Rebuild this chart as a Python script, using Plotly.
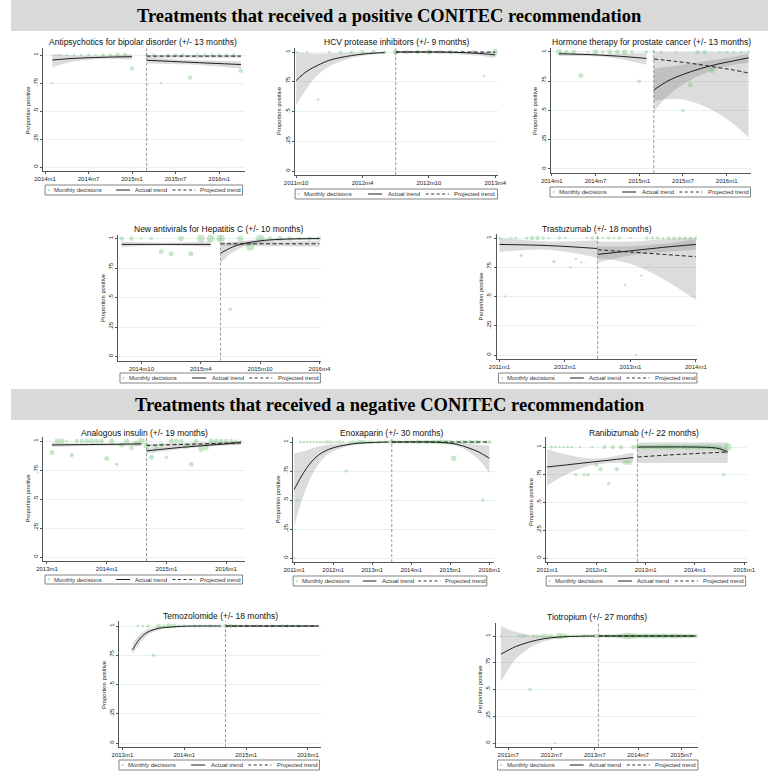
import math
import plotly.graph_objects as go

FIG_W, FIG_H = 778, 780

# ------------------------------------------------------------------ texts
HEADER_POS = "Treatments that received a positive CONITEC recommendation"
HEADER_NEG = "Treatments that received a negative CONITEC recommendation"
LEGEND_LABELS = ["Monthly decisions", "Actual trend", "Projected trend"]
Y_TITLE = "Proportion positive"
Y_TICKS = [0, 0.25, 0.5, 0.75, 1]
Y_TICK_TEXT = ["0", ".25", ".5", ".75", "1"]

# ------------------------------------------------------------------ 1 Antipsychotics
AP_TITLE = "Antipsychotics for bipolar disorder (+/- 13 months)"
AP_BASE = "2014m1"
AP_TICKS = ["2014m1", "2014m7", "2015m1", "2015m7", "2016m1"]
AP_CUT = 14
AP_MONTHS = [1, 2, 3, 4, 5, 6, 7, 8, 9, 10, 11, 12, 14, 15, 16, 17, 18, 19, 20, 21, 22, 23, 24, 25, 26, 27]
AP_PROP = [0.75, 1, 1, 1, 1, 1, 1, 1, 1, 1, 1, 0.88, 1, 1, 0.75, 1, 1, 1, 0.80, 1, 1, 1, 1, 1, 1, 0.86]
AP_N = [1, 1, 1, 1, 1, 2, 1, 2, 2, 3, 3, 3, 2, 2, 1, 2, 2, 2, 3, 2, 2, 2, 2, 2, 2, 3]
AP_PRE_T = [1, 4, 8, 12]
AP_PRE_FIT = [0.955, 0.97, 0.98, 0.985]
AP_PRE_LO = [0.89, 0.945, 0.965, 0.96]
AP_PRE_HI = [1.01, 0.995, 0.995, 1.01]
AP_POST_T = [14, 20, 27]
AP_POST_FIT = [0.953, 0.935, 0.915]
AP_POST_LO = [0.925, 0.915, 0.88]
AP_POST_HI = [0.98, 0.955, 0.945]
AP_PROJ_T = [14, 27]
AP_PROJ_FIT = [0.99, 0.99]
AP_PROJ_LO = [0.975, 0.975]
AP_PROJ_HI = [1.0, 1.0]

# ------------------------------------------------------------------ 2 HCV protease inhibitors
HC_TITLE = "HCV protease inhibitors (+/- 9 months)"
HC_BASE = "2011m10"
HC_TICKS = ["2011m10", "2012m4", "2012m10", "2013m4"]
HC_CUT = 9
HC_MONTHS = [0, 1, 2, 3, 4, 5, 6, 7, 8, 9, 10, 11, 12, 13, 14, 15, 16, 17, 18]
HC_PROP = [1, 1, 0.6, 1, 1, 1, 1, 1, 1, 1, 1, 1, 1, 1, 1, 1, 1, 0.8, 1]
HC_N = [1, 1, 1, 1, 2, 2, 3, 3, 2, 5, 3, 3, 5, 3, 3, 2, 3, 1, 6]
HC_PRE_T = [0, 1, 2, 3, 5, 7, 8]
HC_PRE_FIT = [0.76, 0.84, 0.89, 0.93, 0.97, 0.99, 0.995]
HC_PRE_LO = [0.55, 0.70, 0.81, 0.88, 0.95, 0.98, 0.985]
HC_PRE_HI = [1.0, 0.99, 0.985, 0.99, 0.995, 1.0, 1.0]
HC_POST_T = [9, 13, 15, 17, 18]
HC_POST_FIT = [1.0, 1.0, 0.995, 0.985, 0.975]
HC_POST_LO = [0.99, 0.99, 0.98, 0.965, 0.95]
HC_POST_HI = [1.0, 1.0, 1.0, 1.0, 1.0]
HC_PROJ_T = [9, 18]
HC_PROJ_FIT = [1.0, 1.0]
HC_PROJ_LO = [0.995, 0.995]
HC_PROJ_HI = [1.0, 1.0]

# ------------------------------------------------------------------ 3 Hormone therapy
HO_TITLE = "Hormone therapy for prostate cancer (+/- 13 months)"
HO_BASE = "2014m1"
HO_TICKS = ["2014m1", "2014m7", "2015m1", "2015m7", "2016m1"]
HO_CUT = 14
HO_MONTHS = [1, 2, 3, 4, 5, 6, 7, 8, 9, 10, 11, 12, 13, 14, 15, 16, 17, 18, 19, 20, 21, 22, 23, 24, 25, 26, 27]
HO_PROP = [1, 1, 1, 0.8, 1, 1, 1, 1, 1, 1, 1, 0.75, 1, 1, 1, 0.75, 1, 0.5, 0.72, 1, 1, 0.84, 1, 1, 1, 1, 1]
HO_N = [6, 3, 3, 4, 1, 5, 2, 4, 4, 5, 2, 2, 2, 1, 1, 2, 1, 2, 4, 3, 3, 4, 1, 1, 1, 1, 1]
HO_PRE_T = [1, 5, 9, 13]
HO_PRE_FIT = [0.985, 0.978, 0.965, 0.945]
HO_PRE_LO = [0.965, 0.965, 0.945, 0.89]
HO_PRE_HI = [1.0, 0.99, 0.985, 0.995]
HO_POST_T = [14, 16, 19, 22, 25, 27]
HO_POST_FIT = [0.675, 0.755, 0.83, 0.885, 0.925, 0.95]
HO_POST_LO = [0.49, 0.63, 0.76, 0.84, 0.89, 0.905]
HO_POST_HI = [0.86, 0.875, 0.90, 0.93, 0.96, 0.99]
HO_PROJ_T = [14, 17, 20, 23, 25, 27]
HO_PROJ_FIT = [0.94, 0.92, 0.895, 0.865, 0.845, 0.82]
HO_PROJ_LO = [0.58, 0.60, 0.56, 0.47, 0.38, 0.27]
HO_PROJ_HI = [1.0, 1.0, 1.0, 1.0, 1.0, 1.0]

# ------------------------------------------------------------------ 4 New antivirals for Hepatitis C
NA_TITLE = "New antivirals for Hepatitis C (+/- 10 months)"
NA_BASE = "2014m10"
NA_TICKS = ["2014m10", "2015m4", "2015m10", "2016m4"]
NA_CUT = 8
NA_MONTHS = [-2, -1, 0, 1, 2, 3, 4, 5, 6, 7, 8, 9, 10, 11, 12, 13, 14, 15, 16, 17, 18]
NA_PROP = [1, 1, 1, 1, 0.89, 0.87, 1, 0.87, 1, 1, 1, 0.4, 1, 0.93, 1, 1, 1, 1, 1, 1, 1]
NA_N = [3, 3, 1, 2, 4, 4, 5, 4, 9, 9, 12, 2, 6, 10, 10, 3, 4, 3, 2, 3, 3]
NA_PRE_T = [-2, 2, 7]
NA_PRE_FIT = [0.95, 0.95, 0.95]
NA_PRE_LO = [0.925, 0.94, 0.93]
NA_PRE_HI = [0.975, 0.965, 0.975]
NA_POST_T = [8, 9, 10, 12, 14, 18]
NA_POST_FIT = [0.875, 0.92, 0.95, 0.98, 0.993, 1.0]
NA_POST_LO = [0.79, 0.87, 0.92, 0.96, 0.98, 0.99]
NA_POST_HI = [0.94, 0.96, 0.975, 0.995, 1.0, 1.01]
NA_PROJ_T = [8, 18]
NA_PROJ_FIT = [0.955, 0.955]
NA_PROJ_LO = [0.94, 0.93]
NA_PROJ_HI = [0.97, 0.98]

# ------------------------------------------------------------------ 5 Trastuzumab
TR_TITLE = "Trastuzumab (+/- 18 months)"
TR_BASE = "2011m1"
TR_TICKS = ["2011m1", "2012m1", "2013m1", "2014m1"]
TR_CUT = 18
TR_MONTHS = [0, 1, 2, 3, 4, 5, 6, 7, 8, 9, 10, 11, 12, 13, 14, 15, 16, 17, 18, 19, 20, 21, 22, 23, 24, 25, 26, 27, 28, 29, 30, 31, 32, 33, 34, 35, 36]
TR_PROP = [1, 0.5, 1, 1, 0.85, 1, 1, 1, 1, 1, 0.8, 1, 1, 0.75, 0.82, 0.79, 1, 1, 1, 1, 1, 1, 1, 0.6, 1, 0, 0.68, 1, 1, 1, 1, 1, 1, 1, 1, 1, 1]
TR_N = [1, 1, 1, 1, 2, 2, 3, 3, 2, 1, 2, 2, 1, 1, 1, 1, 1, 2, 2, 1, 2, 1, 2, 1, 1, 1, 1, 2, 2, 2, 1, 2, 2, 2, 2, 2, 2]
TR_PRE_T = [0, 9, 18]
TR_PRE_FIT = [0.945, 0.935, 0.91]
TR_PRE_LO = [0.88, 0.90, 0.83]
TR_PRE_HI = [1.0, 0.97, 0.98]
TR_POST_T = [18, 24, 30, 36]
TR_POST_FIT = [0.86, 0.89, 0.92, 0.945]
TR_POST_LO = [0.79, 0.85, 0.88, 0.90]
TR_POST_HI = [0.93, 0.93, 0.95, 0.99]
TR_PROJ_T = [18, 24, 30, 36]
TR_PROJ_FIT = [0.90, 0.88, 0.86, 0.84]
TR_PROJ_LO = [0.83, 0.78, 0.65, 0.47]
TR_PROJ_HI = [0.97, 0.97, 0.99, 1.0]

# ------------------------------------------------------------------ 6 Analogous insulin
IN_TITLE = "Analogous insulin (+/- 19 months)"
IN_BASE = "2013m1"
IN_TICKS = ["2013m1", "2014m1", "2015m1", "2016m1"]
IN_CUT = 20
IN_MONTHS = [1, 2, 3, 4, 5, 6, 7, 8, 9, 10, 11, 12, 13, 14, 15, 16, 17, 18, 19, 20, 21, 22, 23, 24, 25, 26, 27, 28, 29, 30, 31, 32, 33, 34, 35, 36, 37, 38, 39]
IN_PROP = [0.9, 1, 1, 1, 0.88, 1, 1, 1, 1, 1, 1, 0.85, 1, 0.8, 0.965, 1, 0.94, 0.98, 1, 0.96, 0.86, 0.94, 0.97, 0.86, 1, 1, 1, 0.957, 0.8, 1, 0.93, 0.94, 1, 1, 1, 1, 1, 1, 1]
IN_N = [4, 4, 5, 1, 3, 3, 3, 4, 4, 4, 3, 4, 4, 2, 4, 4, 3, 5, 7, 6, 4, 4, 3, 2, 4, 4, 3, 4, 4, 3, 5, 4, 4, 4, 3, 3, 3, 2, 1]
IN_PRE_T = [1, 10, 19]
IN_PRE_FIT = [0.966, 0.97, 0.975]
IN_PRE_LO = [0.95, 0.96, 0.955]
IN_PRE_HI = [0.985, 0.98, 0.99]
IN_POST_T = [20, 27, 33, 39]
IN_POST_FIT = [0.915, 0.945, 0.965, 0.987]
IN_POST_LO = [0.89, 0.93, 0.955, 0.97]
IN_POST_HI = [0.945, 0.96, 0.978, 1.0]
IN_PROJ_T = [20, 39]
IN_PROJ_FIT = [0.962, 0.985]
IN_PROJ_LO = [0.95, 0.965]
IN_PROJ_HI = [0.975, 1.0]

# ------------------------------------------------------------------ 7 Enoxaparin
EN_TITLE = "Enoxaparin (+/- 30 months)"
EN_BASE = "2011m1"
EN_TICKS = ["2011m1", "2012m1", "2013m1", "2014m1", "2015m1", "2016m1"]
EN_CUT = 30
EN_MONTHS = [0, 1, 2, 3, 4, 5, 6, 7, 8, 9, 10, 11, 12, 13, 14, 15, 16, 17, 18, 19, 20, 21, 22, 23, 24, 25, 26, 27, 28, 29,
             30, 31, 32, 33, 34, 35, 36, 37, 38, 39, 40, 41, 42, 43, 44, 45, 46, 47, 48, 49, 50, 51, 52, 53, 54, 55, 56, 57, 58, 59, 60]
EN_PROP = [0, 0.5, 1, 1, 1, 1, 1, 1, 1, 1, 1, 1, 1, 1, 1, 1, 0.75, 1, 1, 1, 1, 1, 1, 1, 1, 1, 1, 1, 1, 1,
           1, 1, 1, 1, 1, 1, 1, 1, 1, 1, 1, 1, 1, 1, 1, 1, 1, 1, 1, 0.86, 1, 1, 1, 1, 1, 1, 1, 1, 0.5, 1, 1]
EN_N = [1, 1, 1, 1, 1, 1, 1, 1, 1, 1, 2, 2, 1, 1, 2, 1, 2, 1, 2, 1, 3, 3, 2, 2, 2, 1, 2, 1, 2, 2,
        3, 2, 2, 1, 2, 2, 2, 2, 3, 2, 2, 3, 2, 3, 3, 4, 4, 3, 3, 5, 2, 2, 3, 2, 3, 2, 3, 2, 2, 2, 2]
EN_PRE_T = [0, 3, 6, 9, 12, 16, 20, 25, 29]
EN_PRE_FIT = [0.59, 0.74, 0.85, 0.915, 0.95, 0.975, 0.99, 0.997, 1.0]
EN_PRE_LO = [0.27, 0.55, 0.74, 0.86, 0.92, 0.96, 0.98, 0.99, 0.995]
EN_PRE_HI = [0.90, 0.92, 0.95, 0.97, 0.98, 0.99, 1.0, 1.0, 1.0]
EN_POST_T = [30, 42, 46, 50, 54, 57, 60]
EN_POST_FIT = [1.0, 1.0, 0.995, 0.98, 0.945, 0.91, 0.86]
EN_POST_LO = [0.995, 0.995, 0.985, 0.965, 0.91, 0.84, 0.73]
EN_POST_HI = [1.0, 1.0, 1.0, 0.995, 0.98, 0.975, 0.97]
EN_PROJ_T = [30, 60]
EN_PROJ_FIT = [1.0, 1.0]
EN_PROJ_LO = [0.997, 0.997]
EN_PROJ_HI = [1.0, 1.0]

# ------------------------------------------------------------------ 8 Ranibizumab
RA_TITLE = "Ranibizumab (+/- 22 months)"
RA_BASE = "2011m1"
RA_TICKS = ["2011m1", "2012m1", "2013m1", "2014m1", "2015m1"]
RA_CUT = 22
RA_MONTHS = [0, 1, 2, 3, 4, 5, 6, 7, 8, 9, 10, 11, 12, 13, 14, 15, 16, 17, 18, 19, 20, 21,
             22, 23, 24, 25, 26, 27, 28, 29, 30, 31, 32, 33, 34, 35, 36, 37, 38, 39, 40, 41, 42, 43, 44]
RA_PROP = [0, 1, 1, 1, 1, 1, 1, 0.75, 1, 0.75, 0.75, 1, 0.84, 0.8, 1, 0.67, 1, 0.8, 1, 0.86, 0.86, 1,
           1, 1, 1, 1, 1, 1, 1, 1, 1, 1, 1, 1, 1, 1, 1, 1, 1, 1, 1, 1, 1, 0.75, 1]
RA_N = [1, 2, 1, 1, 1, 1, 1, 2, 1, 2, 2, 1, 3, 3, 3, 2, 3, 3, 3, 4, 4, 3,
        3, 4, 4, 3, 4, 5, 5, 5, 6, 4, 3, 4, 6, 4, 4, 5, 4, 5, 5, 4, 4, 2, 9]
RA_PRE_T = [0, 5, 11, 16, 21]
RA_PRE_FIT = [0.82, 0.84, 0.865, 0.885, 0.905]
RA_PRE_LO = [0.65, 0.76, 0.835, 0.855, 0.86]
RA_PRE_HI = [0.98, 0.93, 0.895, 0.915, 0.95]
RA_POST_T = [22, 36, 40, 42, 44]
RA_POST_FIT = [1.0, 1.0, 0.995, 0.985, 0.955]
RA_POST_LO = [0.99, 0.99, 0.98, 0.965, 0.93]
RA_POST_HI = [1.0, 1.0, 1.0, 1.0, 0.98]
RA_PROJ_T = [22, 33, 44]
RA_PROJ_FIT = [0.91, 0.935, 0.955]
RA_PROJ_LO = [0.855, 0.855, 0.855]
RA_PROJ_HI = [1.04, 1.04, 1.04]

# ------------------------------------------------------------------ 9 Temozolomide
TE_TITLE = "Temozolomide (+/- 18 months)"
TE_BASE = "2013m1"
TE_TICKS = ["2013m1", "2014m1", "2015m1", "2016m1"]
TE_CUT = 20
TE_MONTHS = [2, 3, 4, 5, 6, 7, 8, 9, 10, 11, 12, 13, 14, 15, 16, 17, 18, 19, 20, 21, 22, 23, 24, 25, 26, 27, 28, 29, 30,
             31, 32, 33, 34, 35, 36, 37, 38]
TE_PROP = [0.8, 1, 1, 1, 0.75, 1, 1, 1, 1, 1, 1, 1, 1, 1, 1, 1, 1, 1, 1, 1, 1, 1, 1, 1, 1, 1, 1, 1, 1,
           1, 1, 1, 1, 1, 1, 1, 1]
TE_N = [2, 1, 1, 2, 2, 4, 2, 5, 4, 2, 2, 1, 2, 2, 1, 2, 1, 2, 3, 3, 2, 1, 2, 1, 2, 1, 1, 2, 1,
        2, 2, 1, 2, 1, 1, 1, 1]
TE_PRE_T = [2, 3, 4, 5, 7, 9, 12, 19]
TE_PRE_FIT = [0.80, 0.87, 0.92, 0.95, 0.98, 0.99, 0.998, 1.0]
TE_PRE_LO = [0.76, 0.83, 0.885, 0.925, 0.965, 0.982, 0.995, 0.998]
TE_PRE_HI = [0.85, 0.91, 0.95, 0.975, 0.992, 1.0, 1.0, 1.0]
TE_POST_T = [20, 38]
TE_POST_FIT = [1.0, 1.0]
TE_POST_LO = [0.998, 0.998]
TE_POST_HI = [1.0, 1.0]
TE_PROJ_T = [20, 38]
TE_PROJ_FIT = [1.0, 1.0]
TE_PROJ_LO = [0.998, 0.998]
TE_PROJ_HI = [1.0, 1.0]

# ------------------------------------------------------------------ 10 Tiotropium
TI_TITLE = "Tiotropium (+/- 27 months)"
TI_BASE = "2011m7"
TI_TICKS = ["2011m7", "2012m7", "2013m7", "2014m7", "2015m7"]
TI_CUT = 25
TI_MONTHS = [-2, 3, 4, 5, 6, 7, 8, 9, 10, 11, 12, 13, 14, 15, 16, 17, 18, 19, 20, 21, 22, 23, 24, 25, 26, 27,
             28, 29, 30, 31, 32, 33, 34, 35, 36, 37, 38, 39, 40, 41, 42, 43, 44, 45, 46, 47, 48, 49, 50, 51, 52]
TI_PROP = [1, 1, 1, 1, 0.5, 1, 1, 1, 1, 1, 1, 0, 1, 1, 1, 1, 1, 1, 1, 1, 1, 1, 1, 1, 1, 1,
           1, 1, 1, 1, 1, 1, 1, 1, 1, 1, 1, 1, 1, 1, 1, 1, 1, 1, 1, 1, 1, 1, 1, 1, 1]
TI_N = [1, 1, 2, 1, 2, 2, 2, 2, 3, 2, 3, 1, 6, 5, 3, 2, 2, 2, 2, 3, 2, 2, 3, 3, 2, 2,
        3, 2, 3, 4, 5, 7, 6, 5, 4, 4, 5, 4, 4, 5, 4, 5, 4, 4, 5, 4, 4, 3, 4, 3, 3]
TI_PRE_T = [-2, 2, 6, 10, 14, 20, 24]
TI_PRE_FIT = [0.83, 0.90, 0.945, 0.975, 0.99, 0.998, 1.0]
TI_PRE_LO = [0.57, 0.78, 0.89, 0.95, 0.98, 0.995, 0.997]
TI_PRE_HI = [1.09, 1.04, 1.01, 1.0, 1.0, 1.0, 1.0]
TI_POST_T = [25, 52]
TI_POST_FIT = [1.0, 1.0]
TI_POST_LO = [0.998, 0.998]
TI_POST_HI = [1.0, 1.0]
TI_PROJ_T = [25, 52]
TI_PROJ_FIT = [1.0, 1.0]
TI_PROJ_LO = [0.998, 0.998]
TI_PROJ_HI = [1.0, 1.0]

# ------------------------------------------------------------------ panel assembly
def pack(title, base, ticks, cut, months, prop, n, pre, post, proj):
    return dict(title=title, base=base, ticks=ticks, cut=cut, months=months, prop=prop, n=n,
                pre=pre, post=post, proj=proj)

PANELS = [
    pack(AP_TITLE, AP_BASE, AP_TICKS, AP_CUT, AP_MONTHS, AP_PROP, AP_N,
         (AP_PRE_T, AP_PRE_FIT, AP_PRE_LO, AP_PRE_HI), (AP_POST_T, AP_POST_FIT, AP_POST_LO, AP_POST_HI),
         (AP_PROJ_T, AP_PROJ_FIT, AP_PROJ_LO, AP_PROJ_HI)),
    pack(HC_TITLE, HC_BASE, HC_TICKS, HC_CUT, HC_MONTHS, HC_PROP, HC_N,
         (HC_PRE_T, HC_PRE_FIT, HC_PRE_LO, HC_PRE_HI), (HC_POST_T, HC_POST_FIT, HC_POST_LO, HC_POST_HI),
         (HC_PROJ_T, HC_PROJ_FIT, HC_PROJ_LO, HC_PROJ_HI)),
    pack(HO_TITLE, HO_BASE, HO_TICKS, HO_CUT, HO_MONTHS, HO_PROP, HO_N,
         (HO_PRE_T, HO_PRE_FIT, HO_PRE_LO, HO_PRE_HI), (HO_POST_T, HO_POST_FIT, HO_POST_LO, HO_POST_HI),
         (HO_PROJ_T, HO_PROJ_FIT, HO_PROJ_LO, HO_PROJ_HI)),
    pack(NA_TITLE, NA_BASE, NA_TICKS, NA_CUT, NA_MONTHS, NA_PROP, NA_N,
         (NA_PRE_T, NA_PRE_FIT, NA_PRE_LO, NA_PRE_HI), (NA_POST_T, NA_POST_FIT, NA_POST_LO, NA_POST_HI),
         (NA_PROJ_T, NA_PROJ_FIT, NA_PROJ_LO, NA_PROJ_HI)),
    pack(TR_TITLE, TR_BASE, TR_TICKS, TR_CUT, TR_MONTHS, TR_PROP, TR_N,
         (TR_PRE_T, TR_PRE_FIT, TR_PRE_LO, TR_PRE_HI), (TR_POST_T, TR_POST_FIT, TR_POST_LO, TR_POST_HI),
         (TR_PROJ_T, TR_PROJ_FIT, TR_PROJ_LO, TR_PROJ_HI)),
    pack(IN_TITLE, IN_BASE, IN_TICKS, IN_CUT, IN_MONTHS, IN_PROP, IN_N,
         (IN_PRE_T, IN_PRE_FIT, IN_PRE_LO, IN_PRE_HI), (IN_POST_T, IN_POST_FIT, IN_POST_LO, IN_POST_HI),
         (IN_PROJ_T, IN_PROJ_FIT, IN_PROJ_LO, IN_PROJ_HI)),
    pack(EN_TITLE, EN_BASE, EN_TICKS, EN_CUT, EN_MONTHS, EN_PROP, EN_N,
         (EN_PRE_T, EN_PRE_FIT, EN_PRE_LO, EN_PRE_HI), (EN_POST_T, EN_POST_FIT, EN_POST_LO, EN_POST_HI),
         (EN_PROJ_T, EN_PROJ_FIT, EN_PROJ_LO, EN_PROJ_HI)),
    pack(RA_TITLE, RA_BASE, RA_TICKS, RA_CUT, RA_MONTHS, RA_PROP, RA_N,
         (RA_PRE_T, RA_PRE_FIT, RA_PRE_LO, RA_PRE_HI), (RA_POST_T, RA_POST_FIT, RA_POST_LO, RA_POST_HI),
         (RA_PROJ_T, RA_PROJ_FIT, RA_PROJ_LO, RA_PROJ_HI)),
    pack(TE_TITLE, TE_BASE, TE_TICKS, TE_CUT, TE_MONTHS, TE_PROP, TE_N,
         (TE_PRE_T, TE_PRE_FIT, TE_PRE_LO, TE_PRE_HI), (TE_POST_T, TE_POST_FIT, TE_POST_LO, TE_POST_HI),
         (TE_PROJ_T, TE_PROJ_FIT, TE_PROJ_LO, TE_PROJ_HI)),
    pack(TI_TITLE, TI_BASE, TI_TICKS, TI_CUT, TI_MONTHS, TI_PROP, TI_N,
         (TI_PRE_T, TI_PRE_FIT, TI_PRE_LO, TI_PRE_HI), (TI_POST_T, TI_POST_FIT, TI_POST_LO, TI_POST_HI),
         (TI_PROJ_T, TI_PROJ_FIT, TI_PROJ_LO, TI_PROJ_HI)),
]

# ------------------------------------------------------------------ layout geometry (pixels)
GEOM = [
    dict(x=(33, 240), xr=(-0.27, 27.5), y0=167, y1=55, ymax=1.06, title=(136, 42), leg=(35, 238, 185, 195)),
    dict(x=(292, 500), xr=(-0.09, 18.2), y0=171, y1=52, ymax=1.03, title=(396, 42), leg=(292, 500, 189, 199)),
    dict(x=(555, 761), xr=(-0.1, 27.4), y0=169, y1=52, ymax=1.035, title=(658, 42), leg=(554, 760, 187, 197)),
    dict(x=(110, 319), xr=(-2.37, 18.2), y0=356.5, y1=238.5, ymax=1.03, title=(214, 229), leg=(112, 318, 373, 383)),
    dict(x=(499, 705), xr=(-0.53, 36.2), y0=355, y1=238, ymax=1.034, title=(602, 229), leg=(501, 705, 373, 383)),
    dict(x=(33, 240), xr=(-0.78, 39.7), y0=557, y1=441, ymax=1.035, title=(137, 433), leg=(35, 238, 575, 584)),
    dict(x=(290, 496), xr=(-0.3, 61.3), y0=558, y1=442, ymax=1.04, title=(391, 433), leg=(290, 489, 576, 586)),
    dict(x=(550, 756), xr=(-0.24, 48.6), y0=558, y1=447, ymax=1.09, title=(651, 433), leg=(550, 755, 576, 586)),
    dict(x=(111, 319), xr=(-0.66, 38.6), y0=743, y1=626, ymax=1.04, title=(215, 616), leg=(111, 317, 760, 770)),
    dict(x=(498, 706), xr=(-3.5, 52.6), y0=743, y1=636, ymax=1.12, title=(602, 617), leg=(500, 706, 760, 770)),
]
YMIN = -0.035

GREEN = "rgba(120,200,120,0.6)"
BAND = "rgba(110,110,110,0.24)"
LINE = "#1e1e1e"
AXIS = "#555555"
GRID = "#e8f0f2"
SANS = "Liberation Sans, Arial, sans-serif"
SERIF = "Liberation Serif, Times New Roman, serif"


def mabs(s):
    y, m = s.split("m")
    return int(y) * 12 + int(m) - 1


def px(v):
    return v / FIG_W


def py(v):
    return 1 - v / FIG_H


fig = go.Figure()
shapes, annots = [], []
layout_axes = {}

for i, (p, g) in enumerate(zip(PANELS, GEOM)):
    sfx = "" if i == 0 else str(i + 1)
    xa, ya = "x" + sfx, "y" + sfx
    s = g["y0"] - g["y1"]
    top = g["y1"] - (g["ymax"] - 1) * s
    bot = g["y0"] - YMIN * s
    base = mabs(p["base"])
    tickvals = [mabs(t) - base for t in p["ticks"]]

    layout_axes["xaxis" + sfx] = dict(
        domain=[px(g["x"][0]), px(g["x"][1])], range=list(g["xr"]), anchor=ya,
        tickvals=tickvals, ticktext=p["ticks"], ticks="outside", ticklen=2, tickwidth=0.8,
        tickcolor=AXIS, showline=True, linecolor=AXIS, linewidth=0.8, showgrid=False,
        zeroline=False, tickfont=dict(family=SANS, size=6, color="#222"), fixedrange=True)
    layout_axes["yaxis" + sfx] = dict(
        domain=[py(bot), py(top)], range=[YMIN, g["ymax"]], anchor=xa,
        tickvals=Y_TICKS, ticktext=Y_TICK_TEXT, tickangle=-90, ticks="outside", ticklen=2,
        tickwidth=0.8, tickcolor=AXIS, showline=True, linecolor=AXIS, linewidth=0.8,
        showgrid=True, gridcolor=GRID, gridwidth=0.8, zeroline=False,
        tickfont=dict(family=SANS, size=6, color="#222"), fixedrange=True)

    # confidence bands
    for (t, fit, lo, hi) in (p["pre"], p["post"], p["proj"]):
        fig.add_trace(go.Scatter(x=t, y=lo, mode="lines", line=dict(width=0, shape="spline"),
                                 xaxis=xa, yaxis=ya, showlegend=False, hoverinfo="skip"))
        fig.add_trace(go.Scatter(x=t, y=hi, mode="lines", line=dict(width=0, shape="spline"),
                                 fill="tonexty", fillcolor=BAND,
                                 xaxis=xa, yaxis=ya, showlegend=False, hoverinfo="skip"))
    # monthly decisions
    fig.add_trace(go.Scatter(x=p["months"], y=p["prop"], mode="markers",
                             marker=dict(size=[2.5 * math.sqrt(k) for k in p["n"]], color=GREEN,
                                         line=dict(width=0)),
                             xaxis=xa, yaxis=ya, showlegend=False))
    # trends
    for key, dash in (("pre", "solid"), ("post", "solid"), ("proj", "4px,2.5px")):
        t, fit = p[key][0], p[key][1]
        fig.add_trace(go.Scatter(x=t, y=fit, mode="lines",
                                 line=dict(color=LINE, width=1.0, shape="spline", dash=dash),
                                 xaxis=xa, yaxis=ya, showlegend=False))
    # intervention line
    shapes.append(dict(type="line", xref=xa, yref=ya + " domain", x0=p["cut"], x1=p["cut"], y0=0, y1=1,
                       line=dict(color="#999999", width=1, dash="3px,2px")))

    # title
    annots.append(dict(text=p["title"], x=px(g["title"][0]), y=py(g["title"][1]), xref="paper", yref="paper",
                       xanchor="center", yanchor="middle", showarrow=False,
                       font=dict(family=SANS, size=8.5, color="#111")))
    # y axis title
    annots.append(dict(text=Y_TITLE, x=px(g["x"][0] - 16), y=py((g["y0"] + g["y1"]) / 2), xref="paper",
                       yref="paper", textangle=-90, xanchor="center", yanchor="middle", showarrow=False,
                       font=dict(family=SANS, size=5.8, color="#222")))

    # legend box
    L, R, T, B = g["leg"]
    Wd = R - L
    yc = (T + B) / 2
    shapes.append(dict(type="rect", xref="paper", yref="paper", x0=px(L), x1=px(R), y0=py(B), y1=py(T),
                       line=dict(color="#666666", width=0.8), fillcolor="white"))
    shapes.append(dict(type="circle", xref="paper", yref="paper",
                       x0=px(L + 0.018 * Wd - 1.1), x1=px(L + 0.018 * Wd + 1.1),
                       y0=py(yc + 1.1), y1=py(yc - 1.1), line=dict(width=0), fillcolor=GREEN))
    shapes.append(dict(type="line", xref="paper", yref="paper", x0=px(L + 0.36 * Wd), x1=px(L + 0.43 * Wd),
                       y0=py(yc), y1=py(yc), line=dict(color=LINE, width=1)))
    shapes.append(dict(type="line", xref="paper", yref="paper", x0=px(L + 0.645 * Wd), x1=px(L + 0.76 * Wd),
                       y0=py(yc), y1=py(yc), line=dict(color=LINE, width=0.9, dash="3px,2.5px")))
    for frac, lab in zip((0.035, 0.447, 0.776), LEGEND_LABELS):
        annots.append(dict(text=lab, x=px(L + frac * Wd), y=py(yc), xref="paper", yref="paper",
                           xanchor="left", yanchor="middle", showarrow=False,
                           font=dict(family=SANS, size=6, color="#333")))

# headers
for (y_top, y_bot, text) in ((0, 31, HEADER_POS), (389, 420, HEADER_NEG)):
    shapes.append(dict(type="rect", xref="paper", yref="paper", x0=0, x1=1, y0=py(y_bot), y1=py(y_top),
                       line=dict(width=0), fillcolor="#d9d9d9", layer="below"))
    annots.append(dict(text="<b>" + text + "</b>", x=0.5, y=py((y_top + y_bot) / 2 + 0.5), xref="paper",
                       yref="paper", xanchor="center", yanchor="middle", showarrow=False,
                       font=dict(family=SERIF, size=18.5, color="#000")))

fig.update_layout(width=FIG_W, height=FIG_H, autosize=False, margin=dict(l=0, r=0, t=0, b=0),
                  paper_bgcolor="white", plot_bgcolor="white", showlegend=False,
                  shapes=shapes, annotations=annots, **layout_axes)

fig.write_html("out.html")
